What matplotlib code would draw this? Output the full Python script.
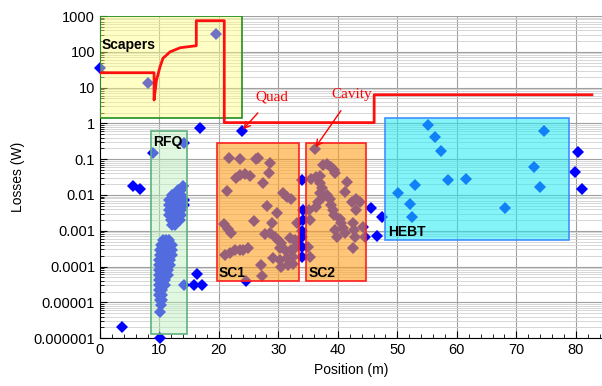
import matplotlib
matplotlib.use("Agg")
import matplotlib.pyplot as plt
import matplotlib.ticker as mticker
from matplotlib.patches import Rectangle

plt.rcParams["font.family"] = ["Liberation Sans", "DejaVu Sans"]

# --- Data ---

# allowed beam-loss limit (red line)
limit_pos = [0, 9.1, 9.1, 9.5, 10.1, 10.6, 11.8, 13.5, 16.2, 16.2,
             20.9, 20.9, 46.1, 46.1, 82.7]
limit_loss = [26, 26, 4.5, 16, 38, 66, 100, 130, 148, 740,
              740, 1.05, 1.05, 6.3, 6.3]

# isolated loss points
point_pos = [0.0, 8.0, 19.5, 16.8, 23.8, 8.96, 14.2, 5.6, 6.7, 14.0,
             3.75, 10.1, 16.25, 15.85, 17.1, 14.1, 24.5,
             34.0, 34.1, 34.1, 33.9, 33.9, 34.0, 33.9,
             45.5, 47.5, 44.5, 46.5, 80.4, 79.8, 81.1]
point_loss = [35, 13.7, 314, 0.73, 0.62, 0.146, 0.29, 0.0178, 0.0144, 0.0178,
              2.1e-6, 1.0e-6, 6.1e-5, 3.0e-5, 3.0e-5, 3.1e-5, 4.0e-5,
              0.026, 0.0038, 0.002, 0.001, 0.00068, 0.00036, 0.00019,
              0.0044, 0.0024, 0.00068, 0.00073, 0.159, 0.044, 0.0144]

# RFQ cluster, one row per loss level
rfq_rows = [
    (0.0138, [13.1, 13.6]),
    (0.0100, [12.1, 12.6, 13.1, 13.6]),
    (0.0072, [11.6, 12.1, 12.6, 13.1, 13.6, 14.1]),
    (0.0053, [11.6, 12.1, 12.6, 13.1, 13.6, 14.1]),
    (0.0038, [11.6, 12.1, 12.6, 13.1, 13.6]),
    (0.0028, [11.6, 12.1, 12.6, 13.1, 13.6]),
    (0.0020, [11.9, 12.4, 12.9, 13.4]),
    (0.00145, [12.1, 12.6]),
    (0.00055, [10.6, 11.1, 11.6]),
    (0.0004, [10.3, 10.8, 11.3, 11.8, 12.1]),
    (0.00029, [10.1, 10.6, 11.1, 11.6, 12.1]),
    (0.00021, [10.1, 10.6, 11.1, 11.6, 12.1]),
    (0.000153, [9.9, 10.3, 10.8, 11.3, 11.8]),
    (0.000111, [9.9, 10.3, 10.8, 11.3, 11.8]),
    (0.00008, [9.9, 10.4, 10.9, 11.4]),
    (0.000058, [10.0, 10.5, 11.0, 11.5]),
    (0.000042, [10.0, 10.5, 11.0]),
    (0.000031, [10.0, 10.5, 11.0]),
    (0.000022, [10.0, 10.5]),
    (0.000016, [10.0, 10.5]),
    (0.0000117, [10.1, 10.4]),
    (0.0000085, [10.2]),
    (0.0000055, [10.1]),
]

sc1_pos = [21.7, 23.6, 26.2, 26.6, 28.6, 22.9, 23.6, 24.4, 25.3, 28.4,
           27.4, 21.4, 30.8, 31.5, 32.1, 28.1, 29.8, 25.9, 29.0, 20.8,
           21.6, 22.0, 33.2, 27.7, 28.6, 29.4, 30.0, 30.5, 31.9, 32.8,
           33.2, 30.3, 31.1, 32.2, 32.8, 21.0, 21.8, 22.7, 23.5, 24.1,
           24.9, 29.1, 30.3, 31.4, 32.5, 30.5, 31.6, 32.5, 27.0, 27.2]
sc1_loss = [0.106, 0.099, 0.101, 0.110, 0.077, 0.030, 0.036, 0.038, 0.035, 0.040,
            0.021, 0.013, 0.011, 0.009, 0.0076, 0.0049, 0.0032, 0.0019, 0.0016, 0.00155,
            0.0011, 0.00089, 0.0017, 0.0008, 0.00085, 0.00068, 0.00055, 0.00045, 0.00062, 0.00055,
            0.00045, 0.00032, 0.00029, 0.00029, 0.00032, 0.00021, 0.00024, 0.00029, 0.00029, 0.00029,
            0.00032, 0.00017, 0.00015, 0.00017, 0.00019, 0.0001, 0.00011, 0.00012, 0.00011, 0.000055]

sc2_pos = [36.1, 37.5, 38.1, 38.8, 39.4, 39.6, 35.5, 36.3, 37.0, 37.0,
           37.3, 37.0, 37.5, 41.6, 41.2, 38.1, 38.7, 38.9, 39.2, 39.4,
           42.3, 43.1, 43.7, 43.1, 35.1, 35.3, 36.7, 36.3, 40.3, 40.6,
           40.9, 41.2, 42.6, 42.7, 42.9, 44.3, 42.6, 35.0, 35.3, 39.5, 39.8]
sc2_loss = [0.189, 0.069, 0.073, 0.062, 0.050, 0.040, 0.0275, 0.031, 0.034, 0.021,
            0.0154, 0.0111, 0.009, 0.0235, 0.0124, 0.01, 0.0076, 0.0053, 0.0038, 0.0028,
            0.0065, 0.0076, 0.0065, 0.0038, 0.0038, 0.002, 0.0065, 0.0047, 0.0022, 0.0016,
            0.0012, 0.00085, 0.0016, 0.00105, 0.00068, 0.0013, 0.00032, 0.00036, 0.00019, 0.00105, 0.00068]

hebt_pos = [55.2, 56.4, 57.3, 53.0, 50.1, 58.5, 61.5, 52.2, 52.5, 68.1, 74.7, 73.0, 73.9]
hebt_loss = [0.90, 0.42, 0.166, 0.0194, 0.0114, 0.026, 0.028, 0.0056, 0.0024, 0.0042, 0.61, 0.059, 0.017]

# shaded machine sections: label, x0, x1, loss_low, loss_high
sections = [
    ("Scapers", 0.0, 23.9, 1.4, 1000),
    ("RFQ", 8.57, 14.7, 1.34e-6, 0.625),
    ("SC1", 19.6, 33.4, 3.9e-5, 0.278),
    ("SC2", 34.6, 44.8, 3.9e-5, 0.278),
    ("HEBT", 47.9, 78.8, 5.4e-4, 1.39),
]
section_face = {"Scapers": "#ffff80", "RFQ": "#b8f0b8", "SC1": "#ffa020",
                "SC2": "#ffa020", "HEBT": "#20ecf4"}
section_edge = {"Scapers": "#209020", "RFQ": "#60b080", "SC1": "#ff2020",
                "SC2": "#ff2020", "HEBT": "#4090ff"}
section_alpha = {"Scapers": 0.45, "RFQ": 0.45, "SC1": 0.6, "SC2": 0.6, "HEBT": 0.55}
# where each label sits (position, loss)
label_at = {"Scapers": (0.3, 160), "RFQ": (9.0, 0.3), "SC1": (20.0, 6.5e-5),
            "SC2": (35.0, 6.5e-5), "HEBT": (48.4, 9.0e-4)}

ytick_vals = [1e-6, 1e-5, 1e-4, 1e-3, 1e-2, 1e-1, 1, 10, 100, 1000]
ytick_text = ["0.000001", "0.00001", "0.0001", "0.001", "0.01", "0.1",
              "1", "10", "100", "1000"]

# --- Plot ---
fig = plt.figure(figsize=(6.02, 3.86), dpi=100)
ax = fig.add_axes([0.166, 0.124, 0.834, 0.8345])

all_pos = list(point_pos) + sc1_pos + sc2_pos + hebt_pos
all_loss = list(point_loss) + sc1_loss + sc2_loss + hebt_loss
for loss, row in rfq_rows:
    all_pos += row
    all_loss += [loss] * len(row)

ax.plot(all_pos, all_loss, "D", color="#0000ff", markersize=6.5,
        markeredgewidth=0, zorder=3, clip_on=False)

for name, x0, x1, lo, hi in sections:
    ax.add_patch(Rectangle((x0, lo), x1 - x0, hi - lo,
                           facecolor=section_face[name], alpha=section_alpha[name],
                           edgecolor="none", zorder=4))
    ax.add_patch(Rectangle((x0, lo), x1 - x0, hi - lo, facecolor="none",
                           edgecolor=section_edge[name], linewidth=1.2, zorder=4))
    lx, ly = label_at[name]
    ax.text(lx, ly, name, fontsize=10, fontweight="bold", color="black",
            ha="left", va="center", zorder=7)

ax.plot(limit_pos, limit_loss, color="#ff1010", linewidth=2, zorder=5)

ax.annotate("Quad", xy=(23.9, 0.64), xytext=(28.9, 5.3),
            fontsize=11, color="red", family=["Liberation Serif", "DejaVu Serif"],
            ha="center", va="center", zorder=7,
            arrowprops=dict(arrowstyle="->", color="red", lw=1,
                            shrinkA=6, shrinkB=1))
ax.annotate("Cavity", xy=(36.1, 0.2), xytext=(42.4, 6.4),
            fontsize=11, color="red", family=["Liberation Serif", "DejaVu Serif"],
            ha="center", va="center", zorder=7,
            arrowprops=dict(arrowstyle="->", color="red", lw=1,
                            shrinkA=6, shrinkB=1))

ax.set_yscale("log")
ax.set_ylim(1e-6, 1000)
ax.set_xlim(0, 84.4)
ax.yaxis.set_major_locator(mticker.FixedLocator(ytick_vals))
ax.yaxis.set_major_formatter(mticker.FixedFormatter(ytick_text))
ax.yaxis.set_minor_locator(mticker.LogLocator(base=10, subs=range(2, 10), numticks=20))
ax.yaxis.set_minor_formatter(mticker.NullFormatter())
ax.xaxis.set_minor_locator(mticker.MultipleLocator(2))
ax.set_xticks([0, 10, 20, 30, 40, 50, 60, 70, 80])

ax.tick_params(which="both", direction="in", labelsize=10.5)
ax.tick_params(which="major", length=5)
ax.tick_params(which="minor", length=3)

ax.grid(True, which="major", axis="both", color="#a0a0a0", linewidth=0.8, zorder=0)
ax.grid(True, which="minor", axis="y", color="#d0d0d0", linewidth=0.6, zorder=0)
ax.set_axisbelow(True)

for side in ("top", "right"):
    ax.spines[side].set_visible(False)

ax.set_xlabel("Position (m)", fontsize=10)
ax.set_ylabel("Losses (W)", fontsize=10, labelpad=6)

fig.savefig("out.png", dpi=100)
